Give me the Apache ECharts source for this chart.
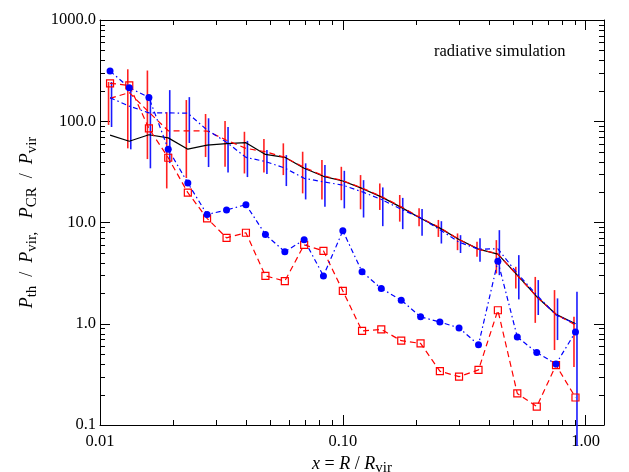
<!DOCTYPE html>
<html><head><meta charset="utf-8">
<script src="https://cdn.jsdelivr.net/npm/echarts@6/dist/echarts.min.js"></script>
<style>html,body{margin:0;padding:0;background:#fff}#c{width:629px;height:472px}</style>
</head><body><div id="c"></div>
<script>
// ---- data ----
const radii = [0.0110, 0.0132, 0.0159, 0.0191, 0.0230, 0.0276, 0.0332, 0.0399, 0.0480, 0.0577, 0.0693, 0.0832, 0.100, 0.120, 0.144, 0.174, 0.209, 0.251, 0.301, 0.362, 0.435, 0.523, 0.629, 0.755, 0.908];
const blackSolid = [73, 63.5, 73.6, 68.5, 53, 58, 60, 61.4, 47, 44, 34.3, 28.6, 25.7, 21.7, 17.9, 14.1, 11.0, 8.8, 6.8, 5.46, 4.87, 3.02, 1.85, 1.24, 1.0];
const redDashedUpper = [168, 192, 123, 80.5, 80.5, 80, 65, 54, 50, 44, 35, 29, 25.9, 21.9, 18.1, 14.3, 11.1, 8.9, 6.8, 5.45, 4.9, 3.0, 1.85, 1.24, 0.97];
const blueDashDotUpper = [171, 141, 121, 121, 120, 82, 62, 44, 40, 34.5, 27.3, 25.2, 23.4, 20.1, 16.9, 13.5, 11.1, 8.5, 6.4, 5.45, 5.5, 3.14, 1.92, 1.22, 1.0];
const redSquares = [237, 226, 85, 43.6, 19.7, 11.0, 7.06, 7.92, 2.97, 2.64, 6.02, 5.25, 2.11, 0.85, 0.88, 0.68, 0.64, 0.34, 0.30, 0.35, 1.36, 0.205, 0.152, 0.39, 0.187];
const blueDots = [313, 214, 172, 53, 24.5, 12.0, 13.3, 15.0, 7.6, 5.14, 6.75, 2.97, 8.28, 3.26, 2.23, 1.71, 1.17, 1.04, 0.91, 0.62, 4.15, 0.74, 0.52, 0.40, 0.83];
const redErrHigh = [244, 326, 317, 123, 162, 118, 100.5, 78.7, 66.7, 60.5, 50, 41.4, 35.5, 29.4, 24.3, 18.7, 13.8, 10.6, 7.8, 6.45, 6.7, 3.65, 2.9, 2.15, 1.17];
const redErrLow = [92, 54, 42.3, 21.7, 27.5, 44.3, 35.5, 30.5, 31.1, 29.4, 19.4, 16.9, 16.6, 13.5, 13.3, 10.2, 9.2, 7.2, 5.33, 4.58, 3.14, 2.23, 1.02, 0.55, 0.375];
const blueErrHigh = [244, 219, 181.5, 203, 173, 107, 87.7, 64, 51.9, 46.3, 38.4, 36.9, 32.4, 26.2, 22.2, 17.5, 13.6, 10.3, 7.5, 6.97, 8.4, 4.76, 2.7, 1.78, 2.07];
const blueErrLow = [87.7, 52.8, 34.3, 38.6, 61, 35.3, 31.1, 28.1, 30.1, 22.9, 16.9, 14.3, 13.8, 11.2, 9.2, 8.6, 7.4, 6.2, 5.0, 4.09, 3.02, 1.74, 1.22, 0.69, 0.062];
const xMinorTicks = [0.02,0.03,0.04,0.05,0.06,0.07,0.08,0.09,0.2,0.3,0.4,0.5,0.6,0.7,0.8,0.9];
const yMinorTicks = [0.2,0.3,0.4,0.5,0.6,0.7,0.8,0.9,2,3,4,5,6,7,8,9,20,30,40,50,60,70,80,90,200,300,400,500,600,700,800,900];
const xRange = [0.01, 1.19];
const yRange = [0.1, 1000];
const annotation = 'radiative simulation';

// ---- chart ----
const FONT = 'Liberation Serif';
const pair = (ys) => radii.map((x, i) => [x, ys[i]]);
const richStyles = {
  it: {fontFamily: FONT, fontStyle: 'italic', fontSize: 18, lineHeight: 24, color: '#000'},
  n: {fontFamily: FONT, fontSize: 18, lineHeight: 24, color: '#000'},
  sub: {fontFamily: FONT, fontSize: 15, lineHeight: 12, verticalAlign: 'bottom', color: '#000'}
};
const isDecade = (v) => { const l = Math.log10(v); return Math.abs(l - Math.round(l)) < 1e-6; };
const axisBase = {
  type: 'log', logBase: 10,
  axisLine: {lineStyle: {color: '#000', width: 1}},
  axisTick: {inside: true, length: 10, lineStyle: {color: '#000', width: 1}},
  splitLine: {show: false}
};
function errBar(lowArr, highArr, color, dx) {
  return {
    type: 'custom', coordinateSystem: 'cartesian2d', clip: false, silent: true, z: 2,
    data: radii.map((x, i) => [x, lowArr[i], highArr[i]]),
    encode: {x: 0, y: [1, 2]},
    renderItem(params, api) {
      const lo = api.coord([api.value(0), api.value(1)]);
      const hi = api.coord([api.value(0), api.value(2)]);
      const x = lo[0] + dx;
      return {type: 'line', shape: {x1: x, y1: lo[1], x2: x, y2: hi[1]},
              style: {stroke: color, lineWidth: 1.6}};
    }
  };
}
function minorTicks(vals, isX) {
  return {
    type: 'custom', coordinateSystem: 'cartesian2d', silent: true, z: 10,
    data: vals.map(v => isX ? [v, 1] : [0.1, v]),
    encode: {x: 0, y: 1},
    renderItem(params, api) {
      const cs = params.coordSys;
      const p = api.coord([api.value(0), api.value(1)]);
      const L = 5;
      if (isX) {
        const x = Math.round(p[0]) + 0.5, b = cs.y + cs.height, t = cs.y;
        return {type: 'group', children: [
          {type: 'line', shape: {x1: x, y1: b, x2: x, y2: b - L}, style: {stroke: '#000', lineWidth: 1}},
          {type: 'line', shape: {x1: x, y1: t, x2: x, y2: t + L}, style: {stroke: '#000', lineWidth: 1}}]};
      }
      const y = Math.round(p[1]) + 0.5, l = cs.x, r = cs.x + cs.width;
      return {type: 'group', children: [
        {type: 'line', shape: {x1: l, y1: y, x2: l + L, y2: y}, style: {stroke: '#000', lineWidth: 1}},
        {type: 'line', shape: {x1: r, y1: y, x2: r - L, y2: y}, style: {stroke: '#000', lineWidth: 1}}]};
    }
  };
}
const dashDot = [5, 3, 1.5, 3];
const dashed = [6, 4];
const option = {
  animation: false,
  backgroundColor: '#fff',
  grid: {left: 100, right: 25, top: 20, bottom: 47, containLabel: false, outerBoundsMode: 'none'},
  xAxis: [
    Object.assign({}, axisBase, {
      min: xRange[0], max: xRange[1], position: 'bottom',
      axisLabel: {margin: 8, color: '#000', fontFamily: FONT, fontSize: 16.5,
        formatter: v => isDecade(v) ? v.toFixed(2) : ''},
      name: '{it|x}{n| = }{it|R}{n| / }{it|R}{sub|vir}',
      nameLocation: 'middle', nameGap: 25,
      nameTextStyle: {rich: richStyles}
    }),
    Object.assign({}, axisBase, {min: xRange[0], max: xRange[1], position: 'top', axisLabel: {show: false}})
  ],
  yAxis: [
    Object.assign({}, axisBase, {
      min: yRange[0], max: yRange[1], position: 'left',
      axisLabel: {margin: 4, color: '#000', fontFamily: FONT, fontSize: 16.5,
        formatter: v => isDecade(v) ? v.toFixed(1) : ''},
      name: '{it|P}{sub|th}{n|  /  }{it|P}{sub|vir,}{n|   }{it|P}{sub|CR}{n|  /  }{it|P}{sub|vir}',
      nameLocation: 'middle', nameGap: 45, nameRotate: 90,
      nameTextStyle: {rich: richStyles}
    }),
    Object.assign({}, axisBase, {min: yRange[0], max: yRange[1], position: 'right', axisLabel: {show: false}})
  ],
  graphic: [{
    type: 'text', x: 434, y: 52,
    style: {text: annotation, font: '16.5px "Liberation Serif"', fill: '#000',
            textVerticalAlign: 'middle', verticalAlign: 'middle', textAlign: 'left', align: 'left'}
  }],
  series: [
    errBar(redErrLow, redErrHigh, '#ff2020', -1.5),
    errBar(blueErrLow, blueErrHigh, '#1a1aff', 1.5),
    {type: 'line', data: pair(blackSolid), symbol: 'none', z: 3,
     lineStyle: {color: '#000', width: 1.2}},
    {type: 'line', data: pair(redDashedUpper), symbol: 'none', z: 3,
     lineStyle: {color: '#ff0000', width: 1.2, type: dashed}},
    {type: 'line', data: pair(blueDashDotUpper), symbol: 'none', z: 3,
     lineStyle: {color: '#0000ff', width: 1.2, type: dashDot}},
    {type: 'line', data: pair(redSquares), symbol: 'rect', symbolSize: 7, showAllSymbol: true, z: 4,
     itemStyle: {color: 'rgba(255,255,255,0)', borderColor: '#ff0000', borderWidth: 1.2},
     lineStyle: {color: '#ff0000', width: 1.2, type: dashed}},
    {type: 'line', data: pair(blueDots), symbol: 'circle', symbolSize: 7, showAllSymbol: true, z: 4,
     itemStyle: {color: '#0000ff', borderWidth: 0},
     lineStyle: {color: '#0000ff', width: 1.2, type: dashDot}},
    minorTicks(xMinorTicks, true),
    minorTicks(yMinorTicks, false)
  ]
};
const chart = echarts.init(document.getElementById('c'), null, {renderer: 'canvas'});
chart.setOption(option);
</script>
</body></html>
